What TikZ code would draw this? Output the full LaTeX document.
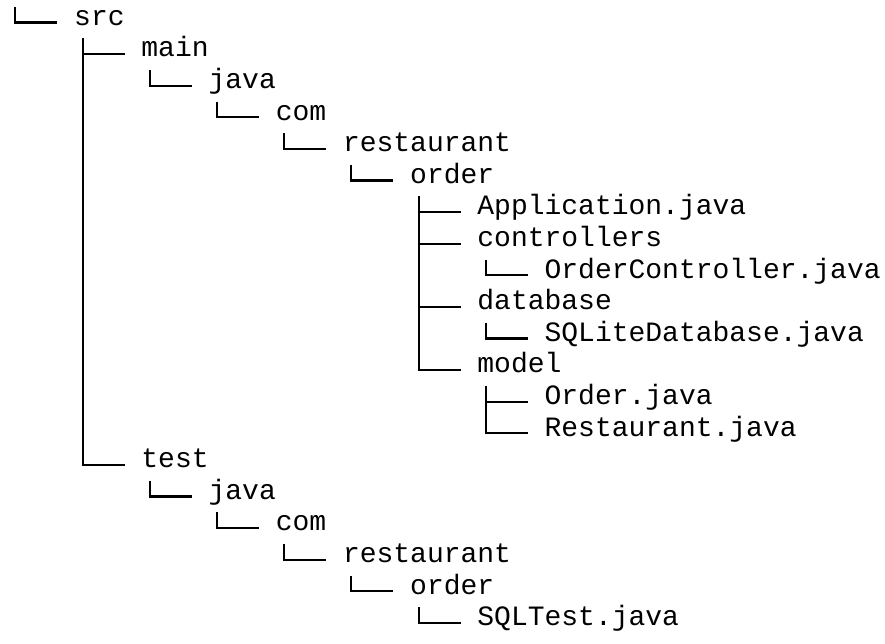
\documentclass[tikz,border=0pt]{standalone}
\usepackage{fontspec}
\setmonofont{Liberation Mono}
\usetikzlibrary{calc}
\begin{document}
\begin{tikzpicture}[x=0.75pt,y=-0.75pt,
  item/.style={anchor=mid west,inner sep=0pt,outer sep=0pt,font=\ttfamily\fontsize{21pt}{24pt}\selectfont,text=black},
  branch/.style={draw=black,line width=1.6pt,line cap=butt}]
\useasboundingbox (0,0) rectangle (885,643);
% rows: y = 22.5 + 31.6 r ; cols: x = 7 + 16.8 c
\node[item] (src)   at (74.2,22.5)  {src};
\node[item] (main)  at (141.4,54.1) {main};
\node[item] (mjava) at (208.6,85.7) {java};
\node[item] (mcom)  at (275.8,117.3) {com};
\node[item] (mrest) at (343,148.9)  {restaurant};
\node[item] (morder) at (410.2,180.5) {order};
\node[item] (app)   at (477.4,212.1) {Application.java};
\node[item] (ctrl)  at (477.4,243.7) {controllers};
\node[item] (octrl) at (544.6,275.3) {OrderController.java};
\node[item] (db)    at (477.4,306.9) {database};
\node[item] (sqldb) at (544.6,338.5) {SQLiteDatabase.java};
\node[item] (model) at (477.4,370.1) {model};
\node[item] (ordj)  at (544.6,401.7) {Order.java};
\node[item] (restj) at (544.6,433.3) {Restaurant.java};
\node[item] (test)  at (141.4,464.9) {test};
\node[item] (tjava) at (208.6,496.5) {java};
\node[item] (tcom)  at (275.8,528.1) {com};
\node[item] (trest) at (343,559.7)  {restaurant};
\node[item] (torder) at (410.2,591.3) {order};
\node[item] (sqlt)  at (477.4,622.9) {SQLTest.java};
% root connector
\coordinate (top) at ($(src.mid west)+(-58.8,-15.8)$);
\draw[branch] (top) |- ($(src.mid west)+(-16.8,0)$);
% child connectors
\foreach \p/\c in {src/main,src/test,main/mjava,mjava/mcom,mcom/mrest,mrest/morder,
  morder/app,morder/ctrl,morder/db,morder/model,ctrl/octrl,db/sqldb,model/ordj,model/restj,
  test/tjava,tjava/tcom,tcom/trest,trest/torder,torder/sqlt}
  \draw[branch] ($(\p.mid west)+(8.4,15.8)$) |- ($(\c.mid west)+(-16.8,0)$);
\end{tikzpicture}
\end{document}
